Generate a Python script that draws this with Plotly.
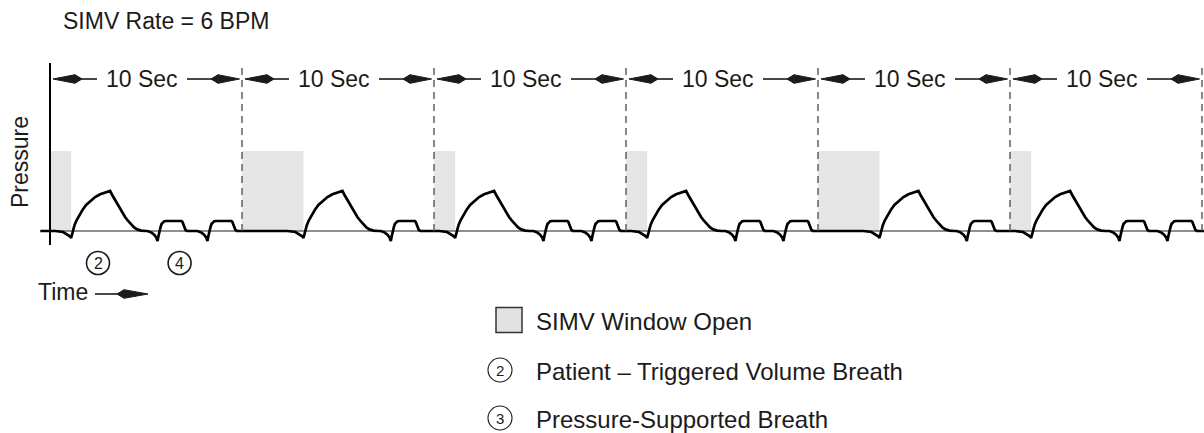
import plotly.graph_objects as go

# ---------------- data ----------------
# SIMV cycles at 6 BPM: one mandatory cycle every 10 s
cycle_starts = [0, 10, 20, 30, 40, 50]
cycle_seconds = 10
cycle_label = "10 Sec"

# patient-triggered volume breaths; each one closes that cycle's SIMV window
volume_triggers = [1.1, 13.2, 21.1, 31.1, 43.2, 51.1]
# spontaneous pressure-supported breaths
support_triggers = [5.6, 8.2, 17.75, 25.7, 28.2, 35.7, 38.2, 47.75, 55.7, 58.2]
window_level = 20  # pressure height of the shaded SIMV window

# volume breath waveform: time from trigger (s), pressure
volume_dt = [-0.83, -0.42, -0.21, -0.08, 0.0, 0.08, 0.18, 0.29, 0.45, 0.61, 0.78, 0.99,
             1.25, 1.51, 1.77, 2.03, 2.14, 2.29, 2.50, 2.66, 2.81, 2.97, 3.13, 3.28,
             3.44, 3.65, 3.90]
volume_p = [0, -0.25, -0.75, -1.25, -1.75, 0.0, 1.5, 2.75, 4.25, 5.4, 6.5, 7.5,
            8.5, 9.2, 9.7, 10.0, 9.0, 7.75, 6.0, 4.75, 3.5, 2.5, 1.6, 0.9,
            0.4, 0.1, 0]

# pressure-supported breath waveform: time from trigger (s), pressure
support_dt = [-0.52, -0.31, -0.16, -0.05, 0.0, 0.05, 0.10, 0.16, 0.21, 0.26, 0.34, 0.42,
              1.25, 1.30, 1.35, 1.41, 1.46, 1.54]
support_p = [0, -0.4, -1.0, -1.75, -2.5, -1.25, 0, 1.0, 1.75, 2.1, 2.4, 2.5,
             2.5, 2.25, 1.5, 0.75, 0.25, 0]

trace_start = -0.5
title_text = "SIMV Rate = 6 BPM"
y_title = "Pressure"
x_title = "Time"
# breath markers under the first cycle: (time, number)
breath_markers = [(2.5, "2"), (6.75, "4")]
legend_labels = ["SIMV Window Open", "Patient – Triggered Volume Breath", "Pressure-Supported Breath"]
legend_numbers = [None, "2", "3"]

# ---------------- geometry ----------------
W, H = 1204, 433
ORIGIN_PX = 50       # pixel column of t = 0
BASE_PX = 231        # pixel row of zero pressure
PX_PER_S = 19.2
PX_PER_UNIT = 4.0

FONT = "Liberation Sans, Arial, sans-serif"
INK = "#1b1b1b"


def dx(px):
    return px / PX_PER_S


def dy(px):
    return px / PX_PER_UNIT


def px_x(px):
    return px / W


def px_y(py):
    return 1 - py / H


# ---------------- waveform ----------------
events = [(t, volume_dt, volume_p) for t in volume_triggers] + \
         [(t, support_dt, support_p) for t in support_triggers]
events.sort(key=lambda e: e[0])

wave_t, wave_p = [trace_start], [0]
for t0, dts, ps in events:
    for d, p in zip(dts, ps):
        wave_t.append(t0 + d)
        wave_p.append(p)
end_t = cycle_starts[-1] + cycle_seconds + 0.2
wave_t.append(end_t)
wave_p.append(0)

fig = go.Figure()
fig.add_trace(go.Scatter(
    x=wave_t, y=wave_p, mode="lines",
    line=dict(color="#000000", width=2.7),
    hoverinfo="skip", showlegend=False,
))

shapes = []
annotations = []

# shaded SIMV windows: open at cycle start, closed by the triggered breath
for start, trig in zip(cycle_starts, volume_triggers):
    shapes.append(dict(type="rect", xref="x", yref="y", x0=start, x1=trig,
                       y0=0, y1=window_level, fillcolor="#e5e5e5",
                       line=dict(width=0), layer="below"))

# zero-pressure baseline
shapes.append(dict(type="line", xref="x", yref="y", x0=trace_start, x1=end_t,
                   y0=0, y1=0, line=dict(color="#6a6a6a", width=1.5), layer="below"))

# pressure axis
shapes.append(dict(type="line", xref="x", yref="y", x0=0, x1=0,
                   y0=dy(-14), y1=dy(168), line=dict(color="#000000", width=2)))

# dashed cycle boundaries
for start in cycle_starts:
    b = start + cycle_seconds
    shapes.append(dict(type="line", xref="x", yref="y", x0=b, x1=b,
                       y0=0, y1=dy(166),
                       line=dict(color="#555555", width=1.4, dash="7px,5px")))


def kite(tip_x, back_x, wide_x, yc, half):
    return (f"M {tip_x},{yc} L {wide_x},{yc + half} L {back_x},{yc} "
            f"L {wide_x},{yc - half} Z")


# "10 Sec" spans with arrowheads
arrow_y = dy(BASE_PX - 79)
half_h = dy(4.3)
for start in cycle_starts:
    end = start + cycle_seconds
    mid = (start + end) / 2 - dx(4)
    # left arrowhead pointing at the cycle start
    shapes.append(dict(type="path", xref="x", yref="y",
                       path=kite(start + dx(3), start + dx(32), start + dx(25), arrow_y, half_h),
                       fillcolor=INK, line=dict(color=INK, width=1)))
    shapes.append(dict(type="line", xref="x", yref="y", x0=start + dx(31), x1=mid - dx(45),
                       y0=arrow_y, y1=arrow_y, line=dict(color=INK, width=1.6)))
    # right arrowhead pointing at the cycle end
    shapes.append(dict(type="path", xref="x", yref="y",
                       path=kite(end - dx(2.5), end - dx(31), end - dx(24), arrow_y, half_h),
                       fillcolor=INK, line=dict(color=INK, width=1)))
    shapes.append(dict(type="line", xref="x", yref="y", x0=mid + dx(45), x1=end - dx(30),
                       y0=arrow_y, y1=arrow_y, line=dict(color=INK, width=1.6)))
    annotations.append(dict(x=mid, y=arrow_y, xref="x", yref="y", text=cycle_label,
                            showarrow=False, xanchor="center", yanchor="middle",
                            font=dict(family=FONT, size=23, color=INK)))

# circled breath markers under the trace
marker_y = dy(BASE_PX - 263)
for t, num in breath_markers:
    shapes.append(dict(type="circle", xref="x", yref="y",
                       x0=t - dx(11.5), x1=t + dx(11.5),
                       y0=marker_y - dy(11.5), y1=marker_y + dy(11.5),
                       line=dict(color=INK, width=1.6)))
    annotations.append(dict(x=t, y=marker_y, xref="x", yref="y", text=num,
                            showarrow=False, xanchor="center", yanchor="middle",
                            font=dict(family=FONT, size=16, color=INK)))

# title and axis captions
annotations.append(dict(x=px_x(61), y=px_y(21), xref="paper", yref="paper",
                        text=title_text, showarrow=False, xanchor="left", yanchor="middle",
                        font=dict(family=FONT, size=23, color=INK)))
annotations.append(dict(x=px_x(20), y=px_y(162), xref="paper", yref="paper",
                        text=y_title, showarrow=False, textangle=-90,
                        xanchor="center", yanchor="middle",
                        font=dict(family=FONT, size=23, color=INK)))
annotations.append(dict(x=px_x(36), y=px_y(292), xref="paper", yref="paper",
                        text=x_title, showarrow=False, xanchor="left", yanchor="middle",
                        font=dict(family=FONT, size=23, color=INK)))
time_y = px_y(294)
shapes.append(dict(type="line", xref="paper", yref="paper", x0=px_x(95), x1=px_x(120),
                   y0=time_y, y1=time_y, line=dict(color=INK, width=1.6)))
th = 4.3 / H
shapes.append(dict(type="path", xref="paper", yref="paper",
                   path=kite(px_x(148), px_x(117), px_x(124), time_y, th),
                   fillcolor=INK, line=dict(color=INK, width=1)))

# key
key_x = 500
key_text_x = 534
key_rows = [320, 370, 418]
for label, num, row in zip(legend_labels, legend_numbers, key_rows):
    if num is None:
        shapes.append(dict(type="rect", xref="paper", yref="paper",
                           x0=px_x(key_x - 4), x1=px_x(key_x + 22),
                           y0=px_y(row + 12.5), y1=px_y(row - 12.5),
                           fillcolor="#e2e2e2", line=dict(color="#333333", width=1.5)))
    else:
        shapes.append(dict(type="circle", xref="paper", yref="paper",
                           x0=px_x(key_x - 12), x1=px_x(key_x + 12),
                           y0=px_y(row + 12), y1=px_y(row - 12),
                           line=dict(color=INK, width=1.1)))
        annotations.append(dict(x=px_x(key_x), y=px_y(row), xref="paper", yref="paper",
                                text=num, showarrow=False, xanchor="center", yanchor="middle",
                                font=dict(family=FONT, size=15, color=INK)))
    annotations.append(dict(x=px_x(key_text_x), y=px_y(row + 1), xref="paper", yref="paper",
                            text=label, showarrow=False, xanchor="left", yanchor="middle",
                            font=dict(family=FONT, size=24, color=INK)))

fig.update_layout(
    width=W, height=H,
    margin=dict(l=0, r=0, t=0, b=0, pad=0),
    paper_bgcolor="#ffffff", plot_bgcolor="#ffffff",
    xaxis=dict(range=[-ORIGIN_PX / PX_PER_S, (W - ORIGIN_PX) / PX_PER_S],
               visible=False, fixedrange=True),
    yaxis=dict(range=[-(H - BASE_PX) / PX_PER_UNIT, BASE_PX / PX_PER_UNIT],
               visible=False, fixedrange=True),
    shapes=shapes,
    annotations=annotations,
    showlegend=False,
)

fig.write_html("out.html", config={"displayModeBar": False})
